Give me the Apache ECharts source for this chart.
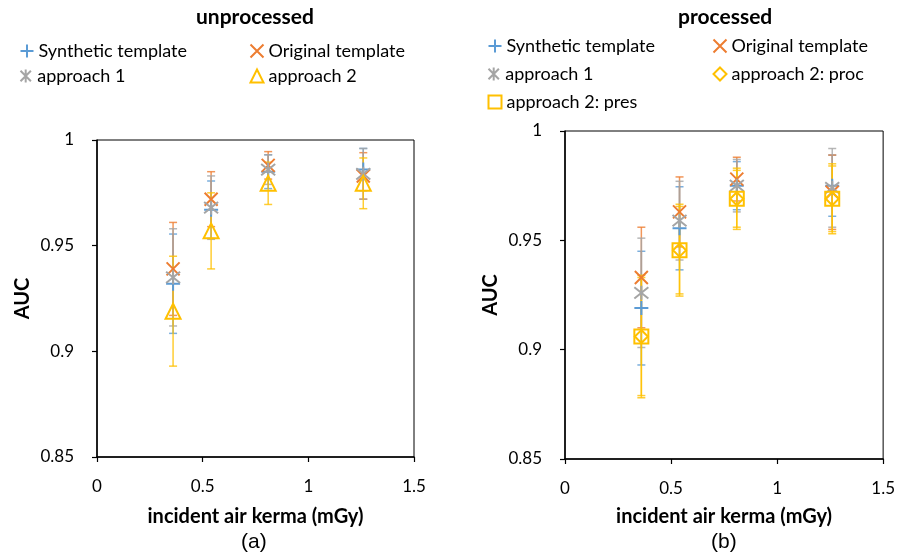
<!DOCTYPE html>
<html><head><meta charset="utf-8">
<script src="https://cdn.jsdelivr.net/npm/echarts@6/dist/echarts.min.js"></script>
<style>html,body{margin:0;padding:0;background:#fff}#c{width:898px;height:558px}</style>
</head><body><div id="c"></div>
<script>
const xVals = [0.36, 0.54, 0.81, 1.26];
const xTicks = [0, 0.5, 1, 1.5];
const yTicks = [0.85, 0.9, 0.95, 1];

// unprocessed (a)
const synthU = [0.932, 0.967, 0.985, 0.986];
const synthUErr = [0.0235, 0.0136, 0.008, 0.010];
const origU = [0.939, 0.972, 0.988, 0.983];
const origUErr = [0.022, 0.013, 0.0065, 0.011];
const app1U = [0.935, 0.968, 0.986, 0.984];
const app1UErr = [0.023, 0.015, 0.007, 0.012];
const app2U = [0.919, 0.957, 0.9795, 0.9795];
const app2UErr = [0.026, 0.018, 0.010, 0.012];

// processed (b)
const synthP = [0.919, 0.9555, 0.975, 0.975];
const synthPErr = [0.026, 0.019, 0.011, 0.014];
const origP = [0.933, 0.963, 0.978, 0.972];
const origPErr = [0.023, 0.016, 0.010, 0.017];
const app1P = [0.926, 0.959, 0.975, 0.974];
const app1PErr = [0.025, 0.018, 0.012, 0.018];
const procP = [0.906, 0.9455, 0.969, 0.969];
const procPErr = [0.028, 0.021, 0.014, 0.016];
const presP = [0.906, 0.9455, 0.969, 0.969];
const presPErr = [0.027, 0.020, 0.013, 0.015];

const BLUE = '#5B9BD5', ORANGE = '#ED7D31', GRAY = '#A5A5A5', YELLOW = '#FFC000';
const FONT = 'Lato';

const SYM = {
  plus: 'path://M5,0L5,10M0,5L10,5',
  cross: 'path://M0,0L10,10M10,0L0,10',
  star: 'path://M1,1L9,9M9,1L1,9M5,0L5,10',
  tri: 'triangle', dia: 'diamond', sq: 'rect'
};

function errSeries(gi, means, errs, color) {
  return {
    type: 'custom', xAxisIndex: gi, yAxisIndex: gi, z: 1, silent: true,
    data: xVals.map((x, i) => [x, means[i] - errs[i], means[i] + errs[i]]),
    encode: { x: 0, y: [1, 2] },
    renderItem: function (params, api) {
      const x = api.value(0);
      const lo = api.coord([x, api.value(1)]);
      const hi = api.coord([x, api.value(2)]);
      const w = 4;
      const st = { stroke: color, lineWidth: 1.5, opacity: 0.8 };
      return { type: 'group', children: [
        { type: 'line', shape: { x1: lo[0], y1: lo[1], x2: hi[0], y2: hi[1] }, style: st },
        { type: 'line', shape: { x1: lo[0] - w, y1: lo[1], x2: lo[0] + w, y2: lo[1] }, style: st },
        { type: 'line', shape: { x1: hi[0] - w, y1: hi[1], x2: hi[0] + w, y2: hi[1] }, style: st }
      ]};
    }
  };
}
function ptSeries(gi, name, means, color, sym, size) {
  return {
    type: 'scatter', name: name, xAxisIndex: gi, yAxisIndex: gi, z: 5,
    symbol: SYM[sym], symbolSize: size,
    itemStyle: { color: 'none', borderColor: color, borderWidth: 2, opacity: 1 },
    data: xVals.map((x, i) => [x, means[i]])
  };
}

function xAx(gi, gap) {
  return { type: 'value', gridIndex: gi, min: xTicks[0], max: xTicks[xTicks.length - 1], interval: 0.5,
    splitLine: { show: false },
    axisLine: { show: true, onZero: false, lineStyle: { color: '#000', width: 1.5 } },
    axisTick: { show: true, length: 5, lineStyle: { color: '#000', width: 1.2 } },
    axisLabel: { color: '#000', fontSize: 17, fontFamily: FONT, margin: 21 },
    name: 'incident air kerma (mGy)', nameLocation: 'middle', nameGap: gap,
    nameTextStyle: { color: '#000', fontSize: 20, fontWeight: 'bold', fontFamily: FONT } };
}
function yAx(gi) {
  return { type: 'value', gridIndex: gi, min: yTicks[0], max: yTicks[yTicks.length - 1], interval: 0.05,
    splitLine: { show: false },
    axisLine: { show: true, onZero: false, lineStyle: { color: '#000', width: 1.5 } },
    axisTick: { show: true, length: 5, lineStyle: { color: '#000', width: 1.2 } },
    axisLabel: { color: '#000', fontSize: 17, fontFamily: FONT, margin: 23 },
    name: 'AUC', nameLocation: 'middle', nameGap: 64,
    nameTextStyle: { color: '#000', fontSize: 20, fontWeight: 'bold', fontFamily: FONT } };
}
function leg(name, left, top) {
  return { data: [name], left: left, top: top, padding: 0, itemWidth: 13, itemHeight: 13, itemGap: 5,
    selectedMode: false,
    textStyle: { color: '#000', fontSize: 18, fontFamily: FONT } };
}

const chart = echarts.init(document.getElementById('c'));
chart.setOption({
  backgroundColor: '#fff',
  animation: false,
  title: [
    { text: 'unprocessed', left: 196, top: 7, padding: 0, textStyle: { fontSize: 21, fontWeight: 'bold', color: '#000', fontFamily: FONT } },
    { text: 'processed', left: 678, top: 7, padding: 0, textStyle: { fontSize: 21, fontWeight: 'bold', color: '#000', fontFamily: FONT } },
    { text: '(a)', left: 241, top: 532, padding: 0, textStyle: { fontSize: 21, fontWeight: 'normal', color: '#000', fontFamily: 'Liberation Sans' } },
    { text: '(b)', left: 711, top: 532, padding: 0, textStyle: { fontSize: 21, fontWeight: 'normal', color: '#000', fontFamily: 'Liberation Sans' } }
  ],
  legend: [
    leg('Synthetic template', 18, 42),
    leg('Original template ', 248, 42),
    leg('approach 1', 18, 67),
    leg('approach 2', 248, 67),
    leg('Synthetic template', 486, 37),
    leg('Original template ', 711, 37),
    leg('approach 1', 486, 65),
    leg('approach 2: proc', 711, 65),
    leg('approach 2: pres', 486, 93)
  ],
  grid: [
    { left: 97, top: 140, width: 317, height: 317, show: true, borderColor: '#000', borderWidth: 1, backgroundColor: 'transparent' },
    { left: 565, top: 131, width: 322, height: 328, show: true, borderColor: '#000', borderWidth: 1, backgroundColor: 'transparent' }
  ],
  xAxis: [xAx(0, 50), xAx(1, 48)],
  yAxis: [yAx(0), yAx(1)],
  series: [
    errSeries(0, synthU, synthUErr, BLUE),
    errSeries(0, origU, origUErr, ORANGE),
    errSeries(0, app1U, app1UErr, GRAY),
    errSeries(0, app2U, app2UErr, YELLOW),
    ptSeries(0, 'Synthetic template', synthU, BLUE, 'plus', 14),
    ptSeries(0, 'Original template ', origU, ORANGE, 'cross', 13),
    ptSeries(0, 'approach 1', app1U, GRAY, 'star', 14),
    ptSeries(0, 'approach 2', app2U, YELLOW, 'tri', 15),
    errSeries(1, synthP, synthPErr, BLUE),
    errSeries(1, origP, origPErr, ORANGE),
    errSeries(1, app1P, app1PErr, GRAY),
    errSeries(1, procP, procPErr, YELLOW),
    errSeries(1, presP, presPErr, YELLOW),
    ptSeries(1, 'Synthetic template', synthP, BLUE, 'plus', 14),
    ptSeries(1, 'Original template ', origP, ORANGE, 'cross', 13),
    ptSeries(1, 'approach 1', app1P, GRAY, 'star', 14),
    ptSeries(1, 'approach 2: proc', procP, YELLOW, 'dia', 13),
    ptSeries(1, 'approach 2: pres', presP, YELLOW, 'sq', 14)
  ]
});
</script></body></html>
